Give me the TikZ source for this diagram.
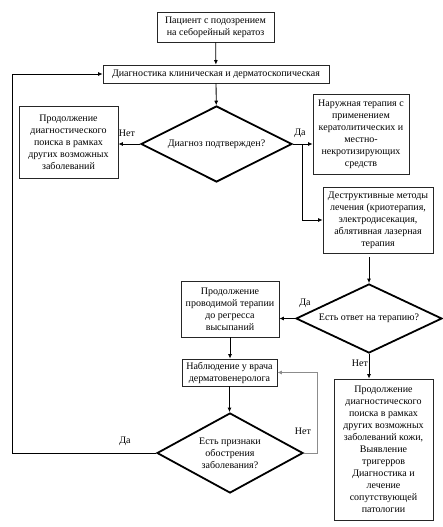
\documentclass[tikz,border=0pt]{standalone}
\usepackage{fontspec}
\setmainfont{Liberation Serif}
\usetikzlibrary{positioning,shapes,calc,arrows.meta}

\begin{document}
\begin{tikzpicture}[x=1pt,y=-1pt,
mybox/.style={
  draw=black!85,
  line width=0.8pt,
  align=center,
  inner sep=1pt,
  font=\fontsize{10}{12}\selectfont},
mydiam/.style={
  draw,
  diamond,
  line width=1.8pt,
  aspect=2,
  inner sep=0pt,
  align=center,
  font=\fontsize{10}{12}\selectfont},
myarrow/.style={
  line width=0.8pt,
  -{Latex[length=4.5pt,width=4pt]}},
mylabel/.style={
  font=\fontsize{10}{12}\selectfont,
  inner sep=0pt}
]
\useasboundingbox (0,0) rectangle (443,527);
\node[mybox,minimum width=117pt,minimum height=30pt] (start) at (215.5,27)
  {Пациент с подозрением\\на себорейный кератоз};
\node[mybox,minimum width=226pt,minimum height=18pt] (diag) at (216,74)
  {Диагностика клиническая и дерматоскопическая};
\node[mydiam,minimum width=151pt,minimum height=76pt] (dec1) at (216.5,144)
  {Диагноз подтвержден?};
\node[mybox,minimum width=99pt,minimum height=72pt] (search1) at (68.5,142)
  {Продолжение\\диагностического\\поиска в рамках\\других возможных\\заболеваний};
\node[mybox,minimum width=96pt,minimum height=80pt] (ext) at (361,134)
  {Наружная терапия с\\применением\\кератолитических и\\местно-\\некротизирующих\\средств};
\node[mybox,minimum width=110pt,minimum height=66pt] (destr) at (378,220)
  {Деструктивные методы\\лечения (криотерапия,\\электродисекация,\\аблятивная лазерная\\терапия};
\node[mydiam,minimum width=146pt,minimum height=69pt] (dec2) at (369,318.5)
  {Есть ответ на терапию?};
\node[mybox,minimum width=98pt,minimum height=56pt] (cont) at (230,309)
  {Продолжение\\проводимой терапии\\до регресса\\высыпаний};
\node[mybox,minimum width=95pt,minimum height=27pt] (obs) at (229.5,372.5)
  {Наблюдение у врача\\дерматовенеролога};
\node[mydiam,aspect=1.8,minimum width=146pt,minimum height=80pt] (dec3) at (230,453)
  {Есть признаки\\обострения\\заболевания?};
\node[mybox,minimum width=99pt,minimum height=141pt] (search2) at (383.5,449.5)
  {Продолжение\\диагностического\\поиска в рамках\\других возможных\\заболеваний кожи,\\Выявление\\тригерров\\Диагностика и\\лечение\\сопутствующей\\патологии};
\coordinate (br) at (302,144);
\coordinate (loopL) at (12,453);
\coordinate (loopR) at (317,453);
\draw[myarrow] (start) -- (diag);
\draw[myarrow] (diag) -- (dec1);
\draw[myarrow] (dec1.west) -- (dec1.west -| search1.east);
\draw[myarrow] (dec1.east) -- (dec1.east -| ext.west);
\draw[myarrow] (br) |- (destr.west);
\draw[myarrow] ([yshift=-4pt]destr.south -| dec2.north) -- (dec2.north);
\draw[myarrow] (dec2.west) -- (dec2.west -| cont.east);
\draw[myarrow] (dec2.south) -- (dec2.south |- search2.north);
\draw[myarrow] (cont.south) -- (cont.south |- obs.north);
\draw[myarrow] (obs.south) -- (obs.south |- dec3.north);
\draw[myarrow,draw=black!45] (dec3.east) -- (loopR) |- (obs.east);
\draw[myarrow] (dec3.west) -- (loopL) |- (diag.west);
\node[mylabel] (no1) at (127,133) {Нет};
\node[mylabel] (yes1) at (300,133) {Да};
\node[mylabel] (yes2) at (305,303) {Да};
\node[mylabel] (no2) at (360,363) {Нет};
\node[mylabel] (no3) at (303,431) {Нет};
\node[mylabel] (yes3) at (125,441) {Да};
\end{tikzpicture}
\end{document}
